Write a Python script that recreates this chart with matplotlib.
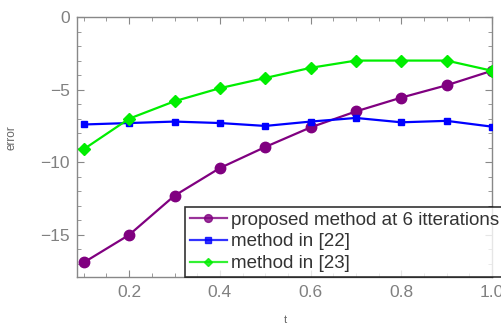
import matplotlib
matplotlib.use("Agg")
import matplotlib.pyplot as plt
from matplotlib.ticker import MultipleLocator

t = [0.1, 0.2, 0.3, 0.4, 0.5, 0.6, 0.7, 0.8, 0.9, 1.0]
proposed = [-16.9, -15.0, -12.3, -10.4, -8.95, -7.6, -6.5, -5.55, -4.7, -3.7]
method22 = [-7.4, -7.3, -7.2, -7.3, -7.5, -7.2, -6.95, -7.25, -7.15, -7.55]
method23 = [-9.1, -7.0, -5.8, -4.9, -4.2, -3.5, -3.0, -3.0, -3.0, -3.7]
labels = ["proposed method at 6 itterations", "method in [22]", "method in [23]"]
xticks = [0.2, 0.4, 0.6, 0.8, 1.0]
yticks = [0, -5, -10, -15]

plt.rcParams['font.family'] = ['Liberation Sans', 'DejaVu Sans']

fig = plt.figure(figsize=(5.02, 3.29), dpi=100)
ax = fig.add_axes([77/502, 1-277/329, (492-77)/502, (277-17)/329])

ax.plot(t, proposed, color='#800080', lw=1.6, marker='o', ms=7.5, label=labels[0], zorder=3)
ax.plot(t, method22, color='#0000ff', lw=1.6, marker='s', ms=5, label=labels[1], zorder=3)
ax.plot(t, method23, color='#00ee00', lw=1.6, marker='D', ms=6, label=labels[2], zorder=3)

ax.set_xlim(0.085, 1.0)
ax.set_ylim(-17.9, 0)
ax.set_xticks(xticks)
ax.set_xticklabels(["0.2", "0.4", "0.6", "0.8", "1.0"])
ax.set_yticks(yticks)
ax.set_yticklabels(["0", "\u22125", "\u221210", "\u221215"])
ax.xaxis.set_minor_locator(MultipleLocator(0.05))
ax.yaxis.set_minor_locator(MultipleLocator(1))

grey = '#888888'
for s in ax.spines.values():
    s.set_color(grey)
    s.set_linewidth(1.0)
ax.tick_params(which='both', direction='in', top=True, right=True, color=grey,
               labelcolor='#808080', labelsize=12.5)
ax.tick_params(which='major', length=5, width=0.8)
ax.tick_params(which='minor', length=3, width=0.6)
ax.tick_params(axis='x', pad=6)
ax.tick_params(axis='y', pad=5)

fig.text(12/502, 1-138/329, "error", rotation=90, ha='center', va='center',
         fontsize=8.5, color='#666666')
fig.text(285/502, 1-320/329, "t", ha='center', va='center', fontsize=8, color='#666666')

leg = ax.legend(loc='lower left', bbox_to_anchor=(185/502, 1-277/329),
                bbox_transform=fig.transFigure, borderaxespad=0, fontsize=13.5,
                frameon=True, fancybox=False, handlelength=2.0, handletextpad=0.2,
                labelspacing=0.25, borderpad=0.25, markerscale=0.75)
leg.get_frame().set_edgecolor('black')
leg.get_frame().set_linewidth(1.2)
for txt in leg.get_texts():
    txt.set_color('#333333')
for line in leg.get_lines():
    line.set_alpha(0.8)

fig.savefig("out.png", dpi=100)
